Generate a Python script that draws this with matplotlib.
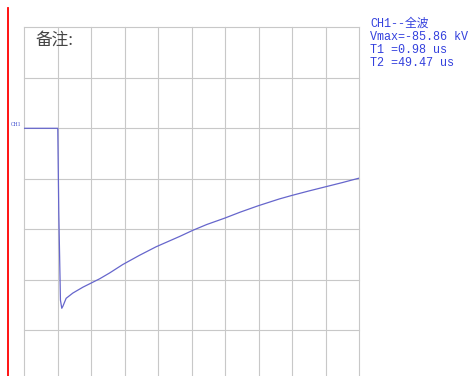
import numpy as np
import matplotlib.pyplot as plt
from matplotlib.lines import Line2D

plt.rcParams['font.family'] = ['Liberation Mono', 'Noto Sans CJK SC']

# 全波冲击波形 (时间 us, 电压 kV)
t_us = [-10, 0.0, 0.3, 0.8, 1.2, 1.55, 2.5, 4.5, 7.5, 10.5, 12.5, 15.5, 19.4, 24.4,
        29.4, 36.4, 40.3, 44.5, 49.8, 54.5, 59.8, 66.2, 70.0, 75.0, 80.0, 85.0,
        89.5, 90.0]
v_kv = [0.0, 0.0, -40.0, -82.0, -85.86, -84.8, -81.1, -78.6, -75.8, -73.4, -71.8,
        -69.0, -65.0, -60.6, -56.5, -51.6, -48.7, -45.9, -42.9, -40.0, -37.0,
        -33.7, -32.0, -29.9, -27.9, -25.9, -24.0, -23.8]

channel = 'CH1'
wave_name = '全波'
vmax = -85.86
t1 = 0.98
t2 = 49.47

us_per_div = 10
kv_per_div = 24.09

W, H = 472, 376
fig = plt.figure(figsize=(W / 100, H / 100), dpi=100)

# 网格区域
left, right, top = 24.3, 359.0, 27.3
ax = fig.add_axes([left / W, 0, (right - left) / W, (H - top) / H])
ax.set_xlim(-10, 90)
ax.set_ylim(-(H - 128.3) / 50.5 * kv_per_div, 2 * kv_per_div)
for s in ax.spines.values():
    s.set_visible(False)
ax.set_xticks(np.arange(-10, 91, us_per_div))
ax.set_yticks(np.arange(-4, 3) * kv_per_div)
ax.tick_params(length=0, labelbottom=False, labelleft=False)
ax.grid(True, color='#c8c8c8', lw=0.8)
for s in ax.get_xgridlines() + ax.get_ygridlines():
    s.set_clip_on(False)

ax.plot(t_us, v_kv, color='#6666cc', lw=0.9, zorder=3)

# 左侧红线
fig.add_artist(Line2D([8.3 / W] * 2, [0, 1 - 8 / H], transform=fig.transFigure,
                      color='#ff0000', lw=1.3))

fig.text(21.5 / W, 1 - 124.5 / H, channel, color='#3344cc', fontsize=4,
         ha='right', va='center', family=['Liberation Serif'])
fig.text(35 / W, 1 - 40 / H, '备注:', color='#444444', fontsize=12,
         ha='left', va='center', family=['Noto Sans CJK SC'])

info = [f'{channel}--{wave_name}', f'Vmax={vmax:.2f} kV',
        f'T1 ={t1:.2f} us', f'T2 ={t2:.2f} us']
for i, line in enumerate(info):
    fig.text(370.5 / W, 1 - (26.5 + 13.2 * i) / H, line, color='#3340dd',
             fontsize=8.5, ha='left', va='baseline')

fig.savefig('out.png', dpi=100)
